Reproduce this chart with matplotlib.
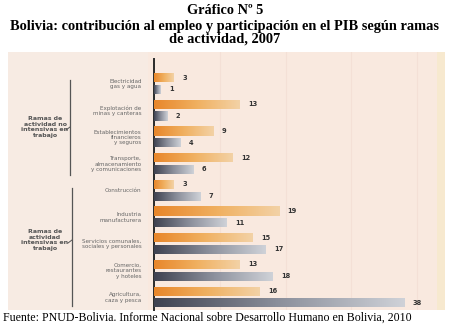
import numpy as np
import matplotlib
matplotlib.use('Agg')
from matplotlib import pyplot as plt
from matplotlib.patches import Rectangle
from matplotlib.lines import Line2D
from matplotlib.colors import LinearSegmentedColormap

categories = ['Electricidad\ngas y agua', 'Explotación de\nminas y canteras',
              'Establecimientos\nfinancieros\ny seguros',
              'Transporte,\nalmacenamiento\ny comunicaciones',
              'Construcción', 'Industria\nmanufacturera',
              'Servicios comunales,\nsociales y personales',
              'Comercio,\nrestaurantes\ny hoteles', 'Agricultura,\ncaza y pesca']
pib = [3, 13, 9, 12, 3, 19, 15, 13, 16]
empleo = [1, 2, 4, 6, 7, 11, 17, 18, 38]
groups = ['Ramas de\nactividad no\nintensivas en\ntrabajo',
          'Ramas de\nactividad\nintensivas en\ntrabajo']

W, H = 450, 326
fig = plt.figure(figsize=(W / 100, H / 100), dpi=100)

def fx(px):
    return px / W

def fy(py):
    return 1 - py / H

# panel background
fig.patches.append(Rectangle((fx(8), fy(310)), fx(437), 258 / H, transform=fig.transFigure,
                             facecolor='#f9e9df', edgecolor='none', zorder=-2))
fig.patches.append(Rectangle((fx(8), fy(310)), fx(140), 258 / H, transform=fig.transFigure,
                             facecolor='#f7ebe3', edgecolor='none', zorder=-2))
fig.patches.append(Rectangle((fx(437), fy(310)), fx(8), 258 / H, transform=fig.transFigure,
                             facecolor='#f7e9cf', edgecolor='none', zorder=-2))

ax = fig.add_axes([fx(154), fy(310), fx(283), 258 / H])
ax.set_zorder(2)
ax.patch.set_alpha(0)

y = np.arange(len(categories))
h = 0.34
off = 0.22

cm_or = LinearSegmentedColormap.from_list('or', ['#e8862a', '#f0b060', '#f3d2a6'])
cm_gr = LinearSegmentedColormap.from_list('gr', ['#3f4250', '#8c909c', '#cfd2d8'])
grad = np.linspace(0, 1, 256).reshape(1, -1)

b1 = ax.barh(y - off, pib, height=h, color='#eea55a', zorder=2)
b2 = ax.barh(y + off, empleo, height=h, color='#8c909c', zorder=2)
for bars, cmap in ((b1, cm_or), (b2, cm_gr)):
    for r in bars:
        x0, y0 = r.get_x(), r.get_y()
        w, hh = r.get_width(), r.get_height()
        im = ax.imshow(grad, cmap=cmap, aspect='auto', extent=(x0, x0 + w, y0 + hh, y0),
                       zorder=3)
        im.set_clip_path(r)

for yi, v in zip(y, pib):
    ax.text(v + 1.3, yi - off, str(v), fontsize=4.8, fontweight='bold', color='#333333',
            va='center', ha='left')
for yi, v in zip(y, empleo):
    ax.text(v + 1.3, yi + off, str(v), fontsize=4.8, fontweight='bold', color='#333333',
            va='center', ha='left')

ax.set_xlim(0, 43)
ax.set_ylim(8.49, -1.18)
ax.set_xticks([10, 20, 30, 40])
ax.xaxis.grid(True, color='#f4e0d6', lw=0.8)
ax.set_axisbelow(True)
ax.tick_params(axis='x', length=0, labelbottom=False)
ax.set_yticks(y)
ax.set_yticklabels(categories, fontsize=4.1, color='#666666', linespacing=1.1)
ax.tick_params(axis='y', length=0, pad=9)
for s in ('top', 'right', 'bottom'):
    ax.spines[s].set_visible(False)
ax.spines['left'].set_color('#2a2a2a')
ax.spines['left'].set_linewidth(1.4)
ax.spines['left'].set_bounds(8.49, -0.9)

# group labels and brackets
fig.text(fx(45), fy(127), groups[0], fontsize=4.5, fontweight='bold', color='#555555',
         ha='center', va='center', linespacing=1.15)
fig.text(fx(45), fy(240), groups[1], fontsize=4.5, fontweight='bold', color='#555555',
         ha='center', va='center', linespacing=1.15)
fig.lines.append(Line2D([fx(70), fx(70)], [fy(80), fy(175)], transform=fig.transFigure,
                        color='#555555', lw=0.9))
fig.lines.append(Line2D([fx(70), fx(66)], [fy(127), fy(130)], transform=fig.transFigure,
                        color='#555555', lw=0.7))
fig.lines.append(Line2D([fx(72), fx(72)], [fy(188), fy(306)], transform=fig.transFigure,
                        color='#555555', lw=0.9))
fig.lines.append(Line2D([fx(72), fx(68)], [fy(240), fy(243)], transform=fig.transFigure,
                        color='#555555', lw=0.7))

fig.text(0.5, fy(11), 'Gráfico Nº 5', fontsize=10.3, fontweight='bold', family='Liberation Serif',
         ha='center', va='center')
fig.text(0.5, fy(33), 'Bolivia: contribución al empleo y participación en el PIB según ramas\n'
         'de actividad, 2007', fontsize=10.4, fontweight='bold', family='Liberation Serif',
         ha='center', va='center', linespacing=0.95)
fig.text(fx(3), fy(318), 'Fuente: PNUD-Bolivia. Informe Nacional sobre Desarrollo Humano en Bolivia, 2010',
         fontsize=8.6, family='Liberation Serif', ha='left', va='center')

fig.savefig('out.png', dpi=100)
